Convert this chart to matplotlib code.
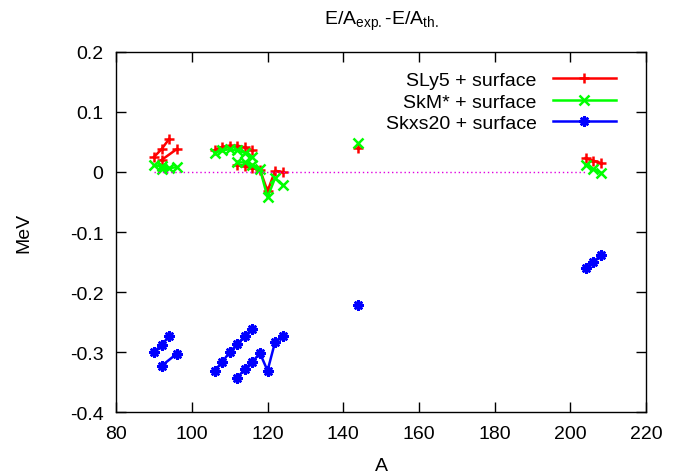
import matplotlib
matplotlib.use('Agg')
import matplotlib.pyplot as plt

plt.rcParams['font.family'] = ['Liberation Sans', 'DejaVu Sans']
plt.rcParams['mathtext.default'] = 'regular'

# mass number A of each connected chain of nuclei
a_chains = [
    [90, 92, 94],
    [92, 96],
    [106, 108, 110, 112, 114, 116],
    [112, 114, 116, 118, 120, 122, 124],
    [144],
    [204, 206, 208],
]

# E/A exp. - E/A th. (MeV), one list per chain
sly5 = [
    [0.025, 0.038, 0.055],
    [0.020, 0.038],
    [0.036, 0.042, 0.044, 0.044, 0.041, 0.036],
    [0.011, 0.010, 0.006, 0.004, -0.032, 0.002, 0.000],
    [0.040],
    [0.023, 0.019, 0.015],
]
skm = [
    [0.011, 0.010, 0.007],
    [0.005, 0.008],
    [0.032, 0.036, 0.038, 0.036, 0.032, 0.025],
    [0.016, 0.016, 0.011, 0.005, -0.042, -0.010, -0.022],
    [0.048],
    [0.012, 0.005, -0.001],
]
skxs20 = [
    [-0.300, -0.288, -0.274],
    [-0.323, -0.303],
    [-0.331, -0.317, -0.300, -0.287, -0.273, -0.261],
    [-0.343, -0.328, -0.316, -0.302, -0.331, -0.283, -0.273],
    [-0.222],
    [-0.160, -0.150, -0.139],
]
zero_a = [90, 204]
zero_e = [0, 0]

fig = plt.figure(figsize=(6.83, 4.77), dpi=100)
ax = fig.add_axes([0.170, 0.134, 0.776, 0.755])

styles = [
    (sly5, 'SLy5 + surface', '#ff0000', '+', 7.5),
    (skm, 'SkM* + surface', '#00ff00', 'x', 6.5),
    (skxs20, 'Skxs20 + surface', '#0000ff', (8, 2, 0), 7.5),
]
for values, name, col, mk, size in styles:
    for i, (a, e) in enumerate(zip(a_chains, values)):
        ax.plot(a, e, color=col, lw=1.8, marker=mk, ms=size, mew=1.8,
                label=name if i == 0 else None)

ax.plot(zero_a, zero_e, color='#e000e0', lw=1.0, ls=(0, (1, 2)))

ax.set_xlim(80, 220)
ax.set_ylim(-0.4, 0.2)
ax.set_xticks(range(80, 221, 20))
ax.set_yticks([-0.4, -0.3, -0.2, -0.1, 0, 0.1, 0.2])
ax.set_yticklabels(['-0.4', '-0.3', '-0.2', '-0.1', '0', '0.1', '0.2'])
ax.tick_params(direction='in', length=7, width=1, top=True, right=True,
               labelsize=14)
ax.tick_params(axis='x', pad=9)
ax.tick_params(axis='y', pad=9)
for s in ax.spines.values():
    s.set_linewidth(1)

ax.set_xlabel('A', fontsize=14, labelpad=11)
ax.set_ylabel('MeV', fontsize=14, labelpad=27)
ax.set_title('E/A$_{exp.}$-E/A$_{th.}$', fontsize=14, pad=20)

ax.legend(loc='upper right', frameon=False, markerfirst=False, fontsize=14,
          handlelength=3.2, handletextpad=0.85, labelspacing=0.2,
          borderaxespad=0.6, bbox_to_anchor=(0.979, 1.0))

plt.savefig('out.png', dpi=100)
